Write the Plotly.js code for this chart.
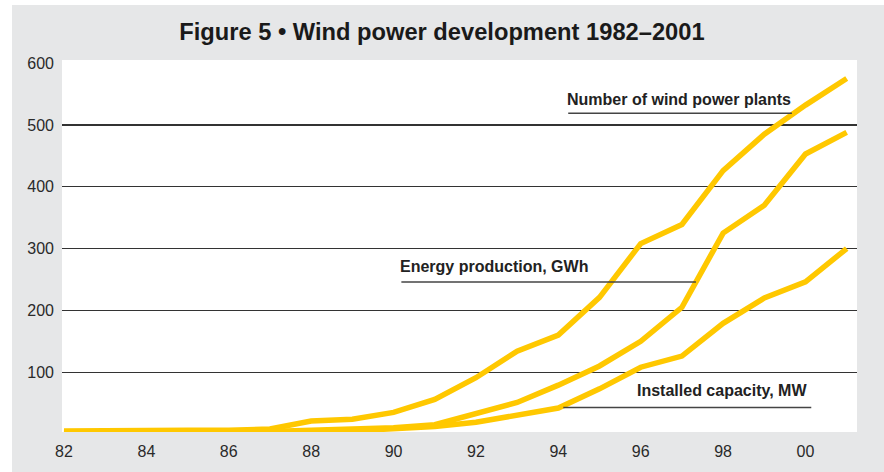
<!DOCTYPE html>
<html>
<head>
<meta charset="utf-8">
<script src="https://cdn.plot.ly/plotly-3.0.1.min.js"></script>
<style>
  html, body { margin: 0; padding: 0; background: #ffffff; }
  #chart { position: absolute; left: 12px; top: 5px; width: 872px; height: 467px; }
</style>
</head>
<body>
<div id="chart"></div>
<script>
// Years and tick labels
const years = [1982, 1983, 1984, 1985, 1986, 1987, 1988, 1989, 1990, 1991,
               1992, 1993, 1994, 1995, 1996, 1997, 1998, 1999, 2000, 2001];
const tickYears = [1982, 1984, 1986, 1988, 1990, 1992, 1994, 1996, 1998, 2000];
const tickLabels = ['82', '84', '86', '88', '90', '92', '94', '96', '98', '00'];
const yTicks = [100, 200, 300, 400, 500, 600];

// Series values
const plants   = [5, 6, 6, 6, 6, 8, 21, 24, 35, 56, 91, 134, 160, 221, 308, 339, 426, 485, 532, 575];
const energy   = [3, 3, 3, 3, 3, 4, 6, 7, 10, 15, 33, 51, 79, 110, 150, 205, 325, 370, 453, 488];
const capacity = [2, 2, 2, 2, 2, 3, 4, 5, 8, 12, 19, 31, 42, 73, 108, 126, 179, 220, 246, 300];

const seriesNames = ['Number of wind power plants', 'Energy production, GWh', 'Installed capacity, MW'];

const lineColor = '#ffc800';
const font = '"Liberation Sans", Arial, Helvetica, sans-serif';

function trace(y, name) {
  return {
    x: years, y: y, name: name, type: 'scatter', mode: 'lines',
    line: { color: lineColor, width: 5.5, shape: 'linear' },
    cliponaxis: false, hoverinfo: 'x+y+name'
  };
}

const data = [trace(plants, seriesNames[0]), trace(energy, seriesNames[1]), trace(capacity, seriesNames[2])];

// label positions (left x, text y, underline y, underline x range)
const labelPos = [
  { x: 1994.17, y: 541, uy: 519, ux0: 1994.24, ux1: 1999.67 },
  { x: 1990.12, y: 271, uy: 246, ux0: 1990.19, ux1: 1997.34 },
  { x: 1995.87, y: 70,  uy: 43,  ux0: 1994.12, ux1: 2000.14 }
];

const annotations = seriesNames.map((t, i) => ({
  text: t, x: labelPos[i].x, y: labelPos[i].y, xref: 'x', yref: 'y',
  xanchor: 'left', yanchor: 'middle', showarrow: false,
  font: { family: font, size: 16, color: '#222222', weight: 'bold' }
}));

const shapes = seriesNames.map((t, i) => ({
  type: 'line', xref: 'x', yref: 'y',
  x0: labelPos[i].ux0, x1: labelPos[i].ux1, y0: labelPos[i].uy, y1: labelPos[i].uy,
  line: { color: '#444444', width: 1.5 }, layer: 'above'
}));
// hide the top gridline (600), which the original does not draw
shapes.push({
  type: 'rect', xref: 'paper', yref: 'y', x0: 0, x1: 1, y0: 590, y1: 612,
  fillcolor: '#ffffff', line: { width: 0 }, layer: 'above'
});

const layout = {
  width: 872, height: 467,
  paper_bgcolor: '#e6e7e8',
  plot_bgcolor: '#ffffff',
  margin: { l: 50, r: 27, t: 55, b: 40, pad: 0 },
  showlegend: false,
  title: {
    text: '<b>Figure 5 • Wind power development 1982–2001</b>',
    font: { family: font, size: 23.7, color: '#1a1a1a' },
    x: 0.493, xref: 'container', xanchor: 'center',
    y: 0.942, yref: 'container', yanchor: 'middle'
  },
  xaxis: {
    range: [1981.952, 2001.25],
    tickvals: tickYears, ticktext: tickLabels,
    showgrid: false, zeroline: false, showline: false,
    ticks: '', ticklabelstandoff: 8,
    tickfont: { family: font, size: 16, color: '#2a2a2a' },
    fixedrange: true
  },
  yaxis: {
    range: [3.2, 605],
    tickvals: yTicks,
    showgrid: true, gridcolor: '#333333', gridwidth: 1.2,
    zeroline: false, showline: false,
    ticks: '', ticklabelstandoff: 7,
    tickfont: { family: font, size: 16, color: '#2a2a2a' },
    fixedrange: true
  },
  annotations: annotations,
  shapes: shapes
};

Plotly.newPlot('chart', data, layout, { displayModeBar: false, staticPlot: true });
</script>
</body>
</html>
